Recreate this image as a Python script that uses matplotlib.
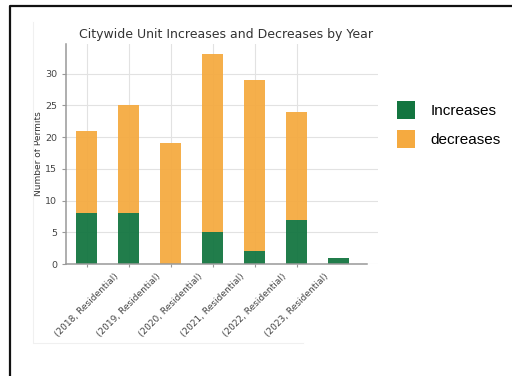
import matplotlib.pyplot as plt
from matplotlib.lines import Line2D
from matplotlib.patches import Patch

years = [2018, 2019, 2020, 2021, 2022, 2023]
permit_type = "Residential"
increases = [8, 8, 0, 5, 2, 7, 1]
decreases = [13, 17, 19, 28, 27, 17, 0]
labels = [f"({y}, {permit_type})" for y in years]

green = "#137540"
orange = "#f5aa40"

fig = plt.figure(figsize=(5.12, 3.76), dpi=100)
ax = fig.add_axes([66 / 512, 1 - 264 / 376, 312 / 512, 220 / 376])

x = list(range(len(increases)))
ax.bar(x, increases, width=0.5, color=green, alpha=0.94, zorder=2)
ax.bar(x, decreases, width=0.5, bottom=increases, color=orange, alpha=0.94, zorder=2)

ax.grid(True, color="#e2e2e2", linewidth=0.8, zorder=0)
ax.set_axisbelow(True)

ax.set_xlim(-0.5, 6.93)
ax.set_ylim(0, 34.65)
ax.set_yticks([0, 5, 10, 15, 20, 25, 30])
ax.set_xticks(range(len(labels)))
ax.set_xticklabels(labels, rotation=45, ha="center", fontsize=6.5, color="#444444")
ax.tick_params(axis="y", labelsize=6.8, labelcolor="#444444", length=3, color="#999999")
ax.tick_params(axis="x", length=2, color="#999999")

for side in ["top", "right"]:
    ax.spines[side].set_visible(False)
for side in ["left", "bottom"]:
    ax.spines[side].set_color("#999999")
    ax.spines[side].set_linewidth(1.1)
ax.spines["bottom"].set_bounds(-0.5, 6.67)

ax.set_title("Citywide Unit Increases and Decreases by Year", fontsize=9,
             color="#333333", pad=4, x=0.513)
ax.set_ylabel("Number of Permits", fontsize=6.5, color="#333333")
ax.yaxis.set_label_coords(-23 / 312, 0.5)

handles = [Patch(facecolor=green, label="Increases"),
           Patch(facecolor=orange, label="decreases")]
fig.legend(handles=handles, loc="upper left", bbox_to_anchor=(397 / 512, 1 - 101 / 376),
           frameon=False, borderpad=0, borderaxespad=0, handlelength=1.15,
           handleheight=1.4, handletextpad=1.05, labelspacing=0.75,
           prop={"family": "Liberation Sans", "size": 11})

# faint edge of the chart image and the black frame around it
fig.add_artist(Line2D([33 / 512, 33 / 512, 303 / 512], [1 - 22 / 376, 1 - 343 / 376, 1 - 343 / 376],
                      transform=fig.transFigure, color="#f0f0f0", linewidth=0.8))
fig.add_artist(Line2D([9.5 / 512, 9.5 / 512, 1.0], [0.0, 1 - 5.5 / 376, 1 - 5.5 / 376],
                      transform=fig.transFigure, color="#111111", linewidth=1.6))

fig.savefig("out.png", dpi=100)
